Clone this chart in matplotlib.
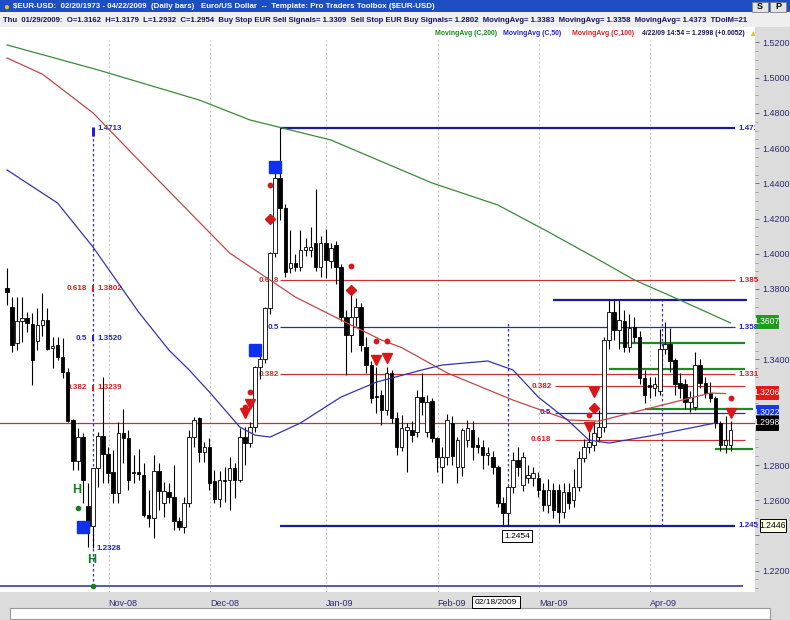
import numpy as np
import pandas as pd
import matplotlib
matplotlib.use("Agg")
import matplotlib.pyplot as plt
from matplotlib import font_manager, transforms
from matplotlib.patches import Rectangle

# EUR/USD daily bars, 03 Oct 2008 - 22 Apr 2009
dates = pd.bdate_range("2008-10-03", "2009-04-22")

opens = [1.3805, 1.3695, 1.3493, 1.3617, 1.3634, 1.3600, 1.3504, 1.3595, 1.3623, 1.3465,
         1.3482, 1.3413, 1.3328, 1.3055, 1.2822, 1.2958, 1.2566, 1.2452, 1.2782, 1.2964,
         1.2862, 1.2760, 1.2641, 1.2981, 1.2953, 1.2760, 1.2760, 1.2743, 1.2516, 1.2498,
         1.2765, 1.2584, 1.2646, 1.2618, 1.2481, 1.2447, 1.2584, 1.2958, 1.3066, 1.2873,
         1.2901, 1.2709, 1.2606, 1.2715, 1.2715, 1.2783, 1.2715, 1.2959, 1.2925, 1.3016,
         1.3357, 1.3400, 1.3692, 1.4004, 1.4430, 1.4260, 1.3919, 1.3947, 1.3925, 1.4021,
         1.4021, 1.4061, 1.3925, 1.4061, 1.3960, 1.4050, 1.3925, 1.3641, 1.3539, 1.3641,
         1.3700, 1.3470, 1.3368, 1.3192, 1.3198, 1.3112, 1.3323, 1.3067, 1.2902, 1.2999,
         1.2999, 1.2988, 1.3186, 1.2988, 1.3162, 1.2953, 1.2789, 1.2845, 1.3040, 1.2789,
         1.2789, 1.2942, 1.2999, 1.2914, 1.2902, 1.2857, 1.2845, 1.2789, 1.2584, 1.2527,
         1.2675, 1.2828, 1.2686, 1.2726, 1.2726, 1.2726, 1.2658, 1.2573, 1.2658, 1.2658,
         1.2533, 1.2647, 1.2601, 1.2675, 1.2840, 1.2902, 1.2914, 1.2959, 1.3016, 1.3510,
         1.3669, 1.3567, 1.3618, 1.3470, 1.3584, 1.3527, 1.3294, 1.3252, 1.3240, 1.3220,
         1.3458, 1.3487, 1.3396, 1.3265, 1.3260, 1.3158, 1.3130, 1.3368, 1.3266, 1.3209,
         1.3180, 1.3039, 1.2914, 1.2914]
highs = [1.3920, 1.3754, 1.3754, 1.3754, 1.3669, 1.3663, 1.3692, 1.3777, 1.3692, 1.3527,
         1.3527, 1.3520, 1.3350, 1.3061, 1.3010, 1.2981, 1.2697, 1.2782, 1.2987, 1.3299,
         1.2901, 1.2884, 1.3044, 1.3118, 1.2998, 1.2856, 1.2890, 1.2811, 1.2657, 1.2856,
         1.2811, 1.2703, 1.2697, 1.2800, 1.2504, 1.2618, 1.2998, 1.3072, 1.3072, 1.2930,
         1.2952, 1.2771, 1.2766, 1.2789, 1.2845, 1.2811, 1.3010, 1.3016, 1.3044, 1.3363,
         1.3460, 1.3700, 1.4010, 1.4470, 1.4713, 1.4280, 1.4135, 1.4000, 1.4135, 1.4090,
         1.4150, 1.4370, 1.4100, 1.4140, 1.4060, 1.4070, 1.3940, 1.3680, 1.3790, 1.3750,
         1.3720, 1.3530, 1.3390, 1.3357, 1.3226, 1.3357, 1.3340, 1.3100, 1.3084, 1.3039,
         1.3050, 1.3226, 1.3323, 1.3200, 1.3179, 1.2960, 1.2900, 1.3090, 1.3080, 1.2960,
         1.3010, 1.3056, 1.3050, 1.2960, 1.2940, 1.2900, 1.2880, 1.2800, 1.2620, 1.2680,
         1.2874, 1.2900, 1.2874, 1.2800, 1.2790, 1.2760, 1.2700, 1.2720, 1.2700, 1.2690,
         1.2700, 1.2700, 1.2780, 1.2880, 1.2950, 1.2990, 1.3050, 1.3110, 1.3530, 1.3738,
         1.3738, 1.3738, 1.3680, 1.3660, 1.3640, 1.3560, 1.3340, 1.3300, 1.3300, 1.3570,
         1.3610, 1.3580, 1.3410, 1.3320, 1.3290, 1.3220, 1.3440, 1.3400, 1.3300, 1.3270,
         1.3190, 1.3050, 1.3080, 1.3050]
lows = [1.3710, 1.3442, 1.3453, 1.3499, 1.3555, 1.3254, 1.3453, 1.3532, 1.3453, 1.3351,
        1.3396, 1.3294, 1.3044, 1.2771, 1.2771, 1.2584, 1.2333, 1.2328, 1.2676, 1.2697,
        1.2697, 1.2584, 1.2584, 1.2811, 1.2657, 1.2697, 1.2714, 1.2504, 1.2447, 1.2385,
        1.2544, 1.2504, 1.2584, 1.2431, 1.2430, 1.2413, 1.2561, 1.2901, 1.2816, 1.2816,
        1.2657, 1.2584, 1.2561, 1.2590, 1.2544, 1.2613, 1.2703, 1.2800, 1.2902, 1.2988,
        1.3290, 1.3380, 1.3660, 1.3980, 1.4190, 1.3870, 1.3890, 1.3900, 1.3900, 1.3990,
        1.3980, 1.3900, 1.3870, 1.3860, 1.3920, 1.3830, 1.3620, 1.3310, 1.3440, 1.3590,
        1.3450, 1.3320, 1.3150, 1.3095, 1.3027, 1.3084, 1.3040, 1.2857, 1.2880, 1.2760,
        1.2930, 1.2960, 1.3084, 1.2960, 1.2932, 1.2760, 1.2700, 1.2800, 1.2800, 1.2700,
        1.2740, 1.2900, 1.2830, 1.2870, 1.2780, 1.2800, 1.2750, 1.2560, 1.2460, 1.2454,
        1.2640, 1.2740, 1.2650, 1.2700, 1.2680, 1.2620, 1.2540, 1.2530, 1.2500, 1.2470,
        1.2500, 1.2550, 1.2560, 1.2650, 1.2820, 1.2870, 1.2880, 1.2930, 1.2990, 1.3460,
        1.3510, 1.3460, 1.3440, 1.3440, 1.3500, 1.3260, 1.3150, 1.3180, 1.3190, 1.3200,
        1.3430, 1.3330, 1.3200, 1.3180, 1.3120, 1.3100, 1.3110, 1.3240, 1.3180, 1.3160,
        1.3010, 1.2880, 1.2870, 1.2880]
closes = [1.3785, 1.3480, 1.3617, 1.3634, 1.3606, 1.3396, 1.3595, 1.3623, 1.3459, 1.3476,
          1.3413, 1.3328, 1.3050, 1.2822, 1.2958, 1.2714, 1.2452, 1.2782, 1.2964, 1.2862,
          1.2754, 1.2641, 1.2981, 1.2953, 1.2714, 1.2754, 1.2749, 1.2516, 1.2498, 1.2765,
          1.2652, 1.2652, 1.2618, 1.2481, 1.2447, 1.2584, 1.2958, 1.3055, 1.2873, 1.2901,
          1.2697, 1.2606, 1.2715, 1.2709, 1.2783, 1.2715, 1.2959, 1.2925, 1.3016, 1.3357,
          1.3400, 1.3692, 1.4004, 1.4430, 1.4260, 1.3896, 1.3947, 1.3925, 1.4021, 1.4040,
          1.4040, 1.3925, 1.4061, 1.3965, 1.4030, 1.3925, 1.3641, 1.3539, 1.3641, 1.3700,
          1.3482, 1.3368, 1.3181, 1.3186, 1.3112, 1.3323, 1.3067, 1.2902, 1.3010, 1.3016,
          1.2970, 1.3186, 1.3158, 1.3158, 1.2954, 1.2845, 1.2845, 1.3056, 1.2850, 1.2942,
          1.2999, 1.3010, 1.2902, 1.2902, 1.2857, 1.2870, 1.2789, 1.2584, 1.2527, 1.2675,
          1.2828, 1.2790, 1.2845, 1.2743, 1.2755, 1.2658, 1.2573, 1.2658, 1.2544, 1.2533,
          1.2647, 1.2584, 1.2675, 1.2840, 1.2902, 1.2930, 1.2982, 1.3016, 1.3510, 1.3669,
          1.3567, 1.3624, 1.3470, 1.3578, 1.3527, 1.3294, 1.3198, 1.3245, 1.3260, 1.3458,
          1.3487, 1.3391, 1.3260, 1.3240, 1.3158, 1.3186, 1.3368, 1.3266, 1.3209, 1.3180,
          1.3039, 1.2914, 1.2942, 1.2998]

# moving averages, sampled along the drawn curves (bar index, value)
ma200_bars = [0, 18, 38, 48, 64, 84, 97, 107, 117, 124, 133, 143]
ma200_vals = [1.5186, 1.5044, 1.4873, 1.4760, 1.4646, 1.4402, 1.4277, 1.4124, 1.3965, 1.3851, 1.3737, 1.3607]
ma100_bars = [0, 7, 17, 26, 38, 44, 57, 66, 74, 78, 87, 100, 111, 117, 128, 139, 142]
ma100_vals = [1.5112, 1.5020, 1.4800, 1.4532, 1.4180, 1.4004, 1.3754, 1.3624, 1.3510, 1.3467, 1.3323,
              1.3169, 1.3056, 1.3050, 1.3130, 1.3209, 1.3206]
ma50_bars = [0, 10, 17, 26, 32, 36, 40, 46, 49, 52, 58, 66, 73, 82, 86, 95, 100, 105, 111, 115, 119, 128, 135, 140]
ma50_vals = [1.4476, 1.4288, 1.4038, 1.3669, 1.3453, 1.3340, 1.3215, 1.3016, 1.2970, 1.2959, 1.3039, 1.3186,
             1.3271, 1.3340, 1.3368, 1.3391, 1.3340, 1.3186, 1.3050, 1.2942, 1.2925, 1.2970, 1.3010, 1.3039]

# fibonacci retracements
oct_fib_bar = 17
oct_fib_low, oct_fib_high = 1.2328, 1.4713
oct_fib_levels = [1.3802, 1.3520, 1.3239]
oct_fib_ratios = ["0.618", "0.5", "0.382"]
dec_fib_levels = [1.4713, 1.3850, 1.3584, 1.3317, 1.2454]
dec_fib_ratios = ["", "0.618", "0.5", "0.382", ""]
dec_fib_tags = ["1.4713", "1.385", "1.358", "1.331", "1.245"]
mar_fib_levels = [1.3738, 1.3248, 1.3096, 1.2944]
mar_fib_ratios = ["", "0.382", "0.5", "0.618"]

# stop lines (green), full-width lines
stop_levels = [1.3493, 1.3345, 1.3118, 1.2891]
stop_start = [121, 119, 126, 140]
ref_red_level = 1.3039
ref_blue_level = 1.2112

# signal markers
tri_bars = [47, 48, 73, 75, 115, 116, 143]
tri_vals = [1.3095, 1.3147, 1.3396, 1.3408, 1.3016, 1.3215, 1.3095]
dot_bars = [47, 48, 52, 68, 73, 75, 115, 143]
dot_vals = [1.3130, 1.3215, 1.4390, 1.3930, 1.3504, 1.3504, 1.3084, 1.3181]
dia_bars = [52, 68, 116]
dia_vals = [1.4197, 1.3794, 1.3124]
sq_bars = [15, 49, 53]
sq_vals = [1.2448, 1.3453, 1.4493]
h_bars = [14, 17]
h_vals = [1.2658, 1.2260]
gdot_vals = [1.2556, 1.2112]

# right-axis value flags: (position, text, face, text colour)
flags = [(1.3615, "1.3607", "#1f9a1f", "white"),
         (1.3212, "1.3206", "#e01818", "white"),
         (1.3101, "1.3022", "#1836e6", "white"),
         (1.3039, "1.2998", "#000000", "white"),
         (1.2456, "1.2446", "#ffffe6", "black")]
hidden_ticks = [1.24, 1.30, 1.32, 1.36]   # covered by the flags

# ---------------------------------------------------------------------------
names = {f.name for f in font_manager.fontManager.ttflist}
NARROW = "Liberation Sans Narrow" if "Liberation Sans Narrow" in names else "Liberation Sans"
plt.rcParams["font.family"] = [NARROW, "DejaVu Sans"]

W, H = 790, 620
fig = plt.figure(figsize=(W / 100, H / 100), dpi=100)
fig.patch.set_facecolor("white")
renderer = fig.canvas.get_renderer()


def fig_rect(x0, y0, x1, y1, fc, ec="none", lw=0.0, z=-5):
    fig.patches.append(Rectangle((x0 / W, 1 - y1 / H), (x1 - x0) / W, (y1 - y0) / H,
                                 transform=fig.transFigure, facecolor=fc, edgecolor=ec,
                                 linewidth=lw, zorder=z))


def fit_text(x0, x1, y, s, **kw):
    t = fig.text(x0 / W, 1 - y / H, s, ha="left", va="center", fontsize=8, **kw)
    w = t.get_window_extent(renderer=renderer).width
    t.set_fontsize(8 * (x1 - x0) / w)
    return t


# chrome
fig_rect(0, 0, W, 12.5, "#1d4fc2")
fig_rect(0, 12.5, W, 27, "#efefef")
fig_rect(755, 27, W, H, "#dcdcdc")
fig_rect(0, 592, W, H, "#dcdcdc")
fig_rect(10, 608, 770, 619, "white", ec="#9a9a9a", lw=0.8)
fig_rect(752, 1.5, 768, 11.5, "#e4e4e4", ec="#808080", lw=0.6, z=1)
fig_rect(770, 1.5, 786, 11.5, "#e4e4e4", ec="#808080", lw=0.6, z=1)
fig.text(760 / W, 1 - 6.5 / H, "S", ha="center", va="center", fontsize=6.5, weight="bold")
fig.text(778 / W, 1 - 6.5 / H, "P", ha="center", va="center", fontsize=6.5, weight="bold")
fig.text(6 / W, 1 - 6.5 / H, "\u25CF", ha="center", va="center", fontsize=7, color="#e8c020")

fit_text(13, 435, 6.5, r"\$EUR-USD:  02/20/1973 - 04/22/2009  (Daily bars)   Euro/US Dollar  --  "
         r"Template: Pro Traders Toolbox (\$EUR-USD)", color="white", weight="bold")
fit_text(3, 752, 20, "Thu  01/29/2009:  O=1.3162  H=1.3179  L=1.2932  C=1.2954  Buy Stop EUR Sell "
         "Signals= 1.3309  Sell Stop EUR Buy Signals= 1.2802  MovingAvg= 1.3383  MovingAvg= 1.3358  "
         "MovingAvg= 1.4373  TDoIM=21", color="#14145e", weight="bold")
leg = fit_text(435, 497, 33.5, "MovingAvg (C,200)", color="#1a8a1a", weight="bold")
legsize = leg.get_fontsize()
for x0, s, col in [(503, "MovingAvg (C,50)", "#2222c8"), (572, "MovingAvg (C,100)", "#d82020"),
                   (642, "4/22/09 14:54 = 1.2998 (+0.0052)", "#14145e")]:
    fig.text(x0 / W, 1 - 33.5 / H, s, ha="left", va="center", fontsize=legsize, color=col, weight="bold")
fig.text(752 / W, 1 - 34 / H, "\u25B2", ha="center", va="center", fontsize=6, color="#e8c020")

# main chart axes (bar index on x)
AX_R, AX_T, AX_B = 755, 40, 592
X0, DX = 7.0, 5.06
ax = fig.add_axes([0, 1 - AX_B / H, AX_R / W, (AX_B - AX_T) / H])
ax.set_xlim((0 - X0) / DX, (AX_R - X0) / DX)
ax.set_ylim(1.2079, 1.5214)
for s in ax.spines.values():
    s.set_visible(False)

o, hi, lo, c = map(np.array, (opens, highs, lows, closes))
idx = np.arange(len(dates))

# month separators and labels
month_start = [i for i in range(1, len(dates)) if dates[i].month != dates[i - 1].month]
grid_x = [i - 0.9 for i in month_start]
ax.vlines(grid_x, 1.2079, 1.5214, colors="#bdbdbd", linestyles=(0, (1.5, 2.5)), lw=0.8, zorder=0)
ax.set_xticks(grid_x)
ax.set_xticklabels([dates[i].strftime("%b-%y") for i in month_start], ha="left")
ax.tick_params(axis="x", length=0, pad=5, labelsize=6.5, labelcolor="#2a2a70")

major = np.round(np.arange(1.22, 1.5201, 0.02), 2)
ax.yaxis.tick_right()
ax.set_yticks(major)
ax.set_yticklabels(["" if v in hidden_ticks else f"{v:.4f}" for v in major])
ax.set_yticks(np.arange(1.21, 1.5201, 0.005), minor=True)
ax.tick_params(axis="y", which="major", length=3, width=0.6, color="#606080",
               labelsize=6.5, labelcolor="#2a2a70", pad=2)
ax.tick_params(axis="y", which="minor", length=2, width=0.5, color="#8888a0")

# reference lines
ax.axhline(ref_red_level, color="#c83030", lw=0.9, zorder=1)
ax.hlines(ref_blue_level, ax.get_xlim()[0], 145.5, color="#3c3ca8", lw=1.2, zorder=1)

# Oct fib (vertical)
ax.vlines(oct_fib_bar, ref_blue_level, oct_fib_high, colors="#3030c0", linestyles=(0, (2, 2)), lw=0.9, zorder=1)
ax.vlines(oct_fib_bar, oct_fib_high - 0.0045, oct_fib_high + 0.0005, colors="#2020d0", lw=2.2, zorder=2)
fib_cols = ["#d82020", "#2020c8", "#d82020"]
for lvl, r, col in zip(oct_fib_levels, oct_fib_ratios, fib_cols):
    ax.vlines(oct_fib_bar, lvl - 0.0018, lvl + 0.0018, colors=col, lw=1.4, zorder=2)
    ax.text(oct_fib_bar - 1.2, lvl, r, color=col, fontsize=5.8, weight="bold", ha="right", va="center")
    ax.text(oct_fib_bar + 0.8, lvl, f"{lvl:.4f}", color=col, fontsize=5.8, weight="bold", ha="left", va="center")
ax.text(oct_fib_bar + 0.8, oct_fib_high, f"{oct_fib_high:.4f}", color="#2020c8", fontsize=5.8,
        weight="bold", ha="left", va="center")
ax.text(oct_fib_bar + 0.6, oct_fib_low, f"{oct_fib_low:.4f}", color="#2020c8", fontsize=5.8,
        weight="bold", ha="left", va="center")

# Dec fib (horizontal)
dec_cols = ["#1a1a9a", "#c83232", "#2828b4", "#c83232", "#1a1a9a"]
dec_lw = [1.6, 0.9, 0.9, 0.9, 1.6]
for k, (lvl, r, tag, col, lw) in enumerate(zip(dec_fib_levels, dec_fib_ratios, dec_fib_tags, dec_cols, dec_lw)):
    ax.hlines(lvl, 54, 143.9, colors=col, lw=lw, zorder=1)
    if r:
        ax.text(53.8, lvl, r, color=col, fontsize=5.8, weight="bold", ha="right", va="center")
    tcol = "#2020c8" if col != "#c83232" else "#d82020"
    ax.text(144.6, lvl, tag, color=tcol, fontsize=5.8, weight="bold", ha="left", va="center",
            clip_on=(k == 0))
ax.text(100.8, 1.2397, "1.2454", fontsize=6, ha="center", va="center", color="black",
        bbox=dict(boxstyle="square,pad=0.25", fc="white", ec="black", lw=0.7), zorder=8)

# Mar fib
mar_cols = ["#1a1a9a", "#c83232", "#2828b4", "#c83232"]
for k, (lvl, r, col) in enumerate(zip(mar_fib_levels, mar_fib_ratios, mar_cols)):
    ax.hlines(lvl, 107.9 if k == 0 else 108.3, 146.2 if k == 0 else 145.8, colors=col,
              lw=1.6 if k == 0 else 0.9, zorder=1)
    if r:
        tcol = "#2020c8" if col == "#2828b4" else "#d82020"
        ax.text(107.6, lvl, r, color=tcol, fontsize=5.8, weight="bold", ha="right", va="center")
ax.vlines([99, 129.4], 1.2454, [1.3612, 1.3738], colors="#3030c0", linestyles=(0, (2, 2)), lw=0.9, zorder=1)

# stop lines
ax.hlines(stop_levels, stop_start, [145.8, 145.8, 147.5, 147.5], colors="#1f8a1f", lw=1.6, zorder=2)

# candles
ax.vlines(idx, lo, hi, colors="black", lw=0.8, zorder=3)
ax.bar(idx, np.maximum(np.abs(c - o), 0.0004), bottom=np.minimum(o, c), width=0.7,
       color=np.where(c >= o, "white", "black"), edgecolor="black", linewidth=0.6, zorder=4)

# moving averages
ax.plot(ma200_bars, ma200_vals, color="#3a8a3a", lw=0.9, zorder=5)
ax.plot(ma100_bars, ma100_vals, color="#c04848", lw=0.9, zorder=5)
ax.plot(ma50_bars, ma50_vals, color="#3434b0", lw=0.9, zorder=5)

# signals
ax.plot(tri_bars, tri_vals, "v", color="#d81818", ms=7, zorder=6)
ax.plot(dot_bars, dot_vals, "o", color="#d81818", ms=3.2, zorder=6)
ax.plot(dia_bars, dia_vals, "D", color="#d81818", ms=5, zorder=6)
ax.plot(sq_bars, sq_vals, "s", color="#1030f0", ms=8, zorder=6)
for b, v in zip(h_bars, h_vals):
    ax.text(b - 0.3, v, "H", color="#12801a", fontsize=9, weight="bold", ha="center", va="center", zorder=6)
ax.plot(h_bars, gdot_vals, "o", color="#12801a", ms=3, zorder=6)

# value flags on the price axis
ytrans = transforms.blended_transform_factory(fig.transFigure, ax.transData)
for pos, txt, fc, tc in flags:
    x_left = 760 if fc == "#ffffe6" else 756
    width = 26 if fc == "#ffffe6" else 22
    ax.add_artist(Rectangle((x_left / W, pos - 0.0038), width / W, 0.0076, transform=ytrans,
                            facecolor=fc, edgecolor="black" if fc == "#ffffe6" else fc,
                            lw=0.7, clip_on=False, zorder=9))
    ax.text((x_left + width / 2) / W, pos, txt, transform=ytrans, color=tc, fontsize=6.2,
            ha="center", va="center", clip_on=False, zorder=10)

fig.text(496 / W, 1 - 602 / H, "02/18/2009", ha="center", va="center", fontsize=6, color="black",
         bbox=dict(boxstyle="square,pad=0.3", fc="white", ec="black", lw=0.7))

fig.savefig("out.png", dpi=100)
